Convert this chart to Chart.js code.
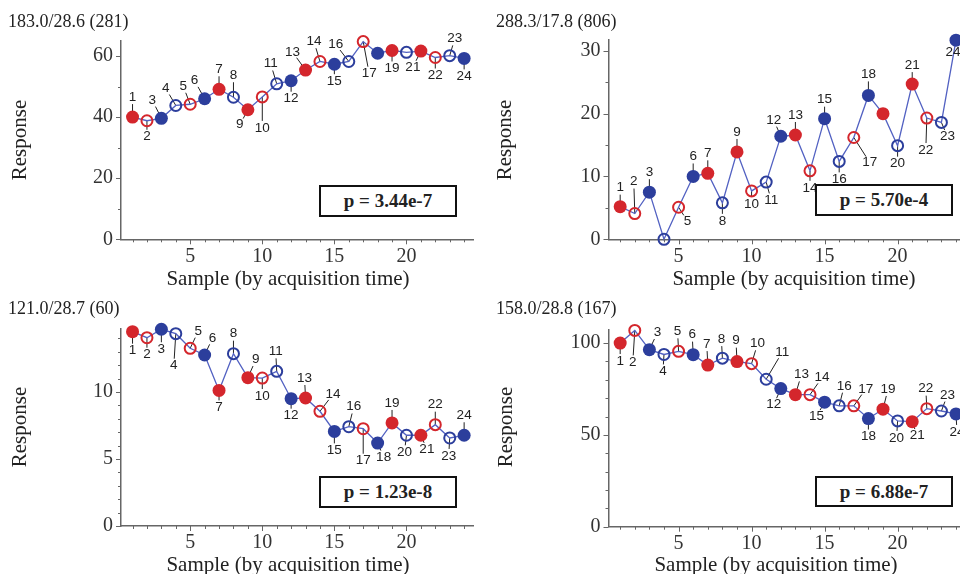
<!DOCTYPE html>
<html>
<head>
<meta charset="utf-8">
<script src="https://cdn.jsdelivr.net/npm/chart.js@4.4.1/dist/chart.umd.min.js"></script>
<style>
  html, body { margin: 0; padding: 0; background: #fff; }
  #page { position: relative; width: 960px; height: 574px; overflow: hidden; font-family: "Liberation Serif", serif; color: #222; }
  canvas { position: absolute; }
  .ttl { position: absolute; font-size: 18px; white-space: nowrap; transform: translateY(-50%); }
  .xt { position: absolute; font-size: 21px; white-space: nowrap; transform: translate(-50%, -50%); }
  .yt { position: absolute; font-size: 21px; white-space: nowrap; transform: translate(-50%, -50%) rotate(-90deg); }
  .pbox { position: absolute; border: 2.5px solid #111; background: #fff; font-weight: bold; font-size: 19px;
          display: flex; align-items: center; justify-content: center; box-sizing: border-box; z-index: 5; }
</style>
</head>
<body>
<div id="page">
  <canvas id="c1" width="480" height="287" style="left:0;top:0"></canvas>
  <canvas id="c2" width="500" height="287" style="left:480px;top:0"></canvas>
  <canvas id="c3" width="480" height="287" style="left:0;top:287px"></canvas>
  <canvas id="c4" width="500" height="287" style="left:480px;top:287px"></canvas>

  <div class="ttl" style="left:8px;top:21px">183.0/28.6 (281)</div>
  <div class="ttl" style="left:496px;top:21px">288.3/17.8 (806)</div>
  <div class="ttl" style="left:8px;top:308px">121.0/28.7 (60)</div>
  <div class="ttl" style="left:496px;top:308px">158.0/28.8 (167)</div>

  <div class="yt" style="left:19px;top:140px">Response</div>
  <div class="yt" style="left:504px;top:140px">Response</div>
  <div class="yt" style="left:19px;top:427px">Response</div>
  <div class="yt" style="left:505px;top:427px">Response</div>

  <div class="xt" style="left:288px;top:278px">Sample (by acquisition time)</div>
  <div class="xt" style="left:794px;top:278px">Sample (by acquisition time)</div>
  <div class="xt" style="left:288px;top:564px">Sample (by acquisition time)</div>
  <div class="xt" style="left:776px;top:564px">Sample (by acquisition time)</div>

  <div class="pbox" style="left:319px;top:185px;width:138px;height:32px">p = 3.44e-7</div>
  <div class="pbox" style="left:815px;top:184px;width:138px;height:32px">p = 5.70e-4</div>
  <div class="pbox" style="left:319px;top:476px;width:138px;height:32px">p = 1.23e-8</div>
  <div class="pbox" style="left:815px;top:476px;width:138px;height:31px">p = 6.88e-7</div>
</div>

<script>
// samples in acquisition order, with their group and marker type
const samples = [1, 2, 3, 4, 5, 6, 7, 8, 9, 10, 11, 12, 13, 14, 15, 16, 17, 18, 19, 20, 21, 22, 23, 24];
const groups  = ['r','r','b','b','r','b','r','b','r','r','b','b','r','r','b','b','r','b','r','b','r','r','b','b'];
const filled  = [1, 0, 1, 0, 0, 1, 1, 0, 1, 0, 0, 1, 1, 0, 1, 0, 0, 1, 1, 0, 1, 0, 0, 1];

const xTicks = [5, 10, 15, 20];

// responses per panel
const responseA = [40.0, 38.8, 39.6, 43.8, 44.2, 46.0, 49.1, 46.5, 42.4, 46.6, 50.9, 51.9,
                   55.4, 58.2, 57.3, 58.2, 64.7, 60.9, 61.8, 61.2, 61.6, 59.5, 60.1, 59.2];
const responseB = [5.2, 4.1, 7.5, 0.0, 5.1, 10.0, 10.5, 5.8, 13.9, 7.7, 9.1, 16.4,
                   16.6, 10.9, 19.2, 12.4, 16.2, 22.9, 20.0, 14.9, 24.7, 19.3, 18.6, 31.7];
const responseC = [14.5, 14.05, 14.68, 14.35, 13.26, 12.76, 10.12, 12.86, 11.07, 11.04, 11.54, 9.5,
                   9.55, 8.56, 7.06, 7.41, 7.26, 6.19, 7.69, 6.77, 6.77, 7.56, 6.57, 6.77];
const responseD = [100.0, 106.9, 96.4, 93.8, 95.5, 93.7, 88.0, 91.8, 89.9, 88.8, 80.3, 75.2,
                   71.9, 71.9, 67.8, 65.8, 65.8, 58.9, 64.0, 57.6, 57.2, 64.3, 63.0, 61.4];

const yTicksA = [0, 20, 40, 60];
const yTicksB = [0, 10, 20, 30];
const yTicksC = [0, 5, 10];
const yTicksD = [0, 50, 100];

// where each sample number sits relative to its marker (null = not labelled)
const labelPosA = [[0,-20],[0,16],[-9,-18],[-10,-17],[-7,-18],[-10,-18],[0,-20],[0,-22],[-8,15],[0,31],[-6,-20],[0,18],
                   [-13,-18],[-6,-20],[0,17],[-13,-17],[6,32],null,[0,18],null,[-8,16],[0,18],[5,-17],[0,18]];
const labelPosB = [[0,-19],[-1,-32],[0,-20],null,[9,14],[0,-20],[0,-20],[0,18],[0,-20],[0,13],[5,18],[-7,-16],
                   [0,-20],[0,17],[0,-19],[0,18],[16,25],[0,-21],null,[0,18],[0,-19],[-1,32],[6,14],[-3,12]];
const labelPosC = [[0,19],[0,17],[0,20],[-2,32],[8,-17],[8,-17],[0,17],[0,-20],[8,-18],[0,18],[-1,-20],[0,17],
                   [-1,-20],[13,-17],[0,19],[5,-20],[0,32],[6,14],[0,-20],[-2,17],[6,14],[0,-20],[-1,18],[0,-20]];
const labelPosD = [[0,18],[-2,32],[8,-17],[-1,17],[-1,-20],[-1,-20],[-1,-21],[-1,-19],[-1,-21],[6,-20],[16,-27],[-7,16],
                   [6,-20],[12,-17],[-8,14],[5,-20],[12,-17],[0,18],[5,-20],[-1,17],[5,14],[-1,-20],[6,-16],[1,18]];

const RED = '#d4262c';
const BLUE = '#2c3e9c';
const LINE = '#5261c2';
const AXIS = '#666';

const panels = [
  { id: 'c1', w: 480, h: 287, area: [121, 40.7, 478, 239.3], yMax: 65,   yMinor: 10, values: responseA, yTicks: yTicksA, labels: labelPosA },
  { id: 'c2', w: 500, h: 287, area: [128.5, 39.5, 485.5, 239.3], yMax: 31.8, yMinor: 5, values: responseB, yTicks: yTicksB, labels: labelPosB },
  { id: 'c3', w: 480, h: 287, area: [121, 42, 478, 239], yMax: 14.7, yMinor: 1,  values: responseC, yTicks: yTicksC, labels: labelPosC },
  { id: 'c4', w: 500, h: 287, area: [128.5, 42.3, 485.5, 239.7], yMax: 107.5, yMinor: 10, values: responseD, yTicks: yTicksD, labels: labelPosD }
];

const YW = 40, XH = 40;

function decorations(p) {
  return {
    id: 'decor_' + p.id,
    beforeDatasetsDraw(chart) {
      // leader lines, hidden under the markers near the point
      const { ctx } = chart;
      const pts = chart.getDatasetMeta(0).data;
      ctx.save();
      ctx.strokeStyle = '#222';
      ctx.lineWidth = 1;
      pts.forEach((pt, i) => {
        const off = p.labels[i];
        if (!off) return;
        const d = Math.hypot(off[0], off[1]);
        const k = (d - 7) / d;
        ctx.beginPath();
        ctx.moveTo(pt.x, pt.y);
        ctx.lineTo(pt.x + off[0] * k, pt.y + off[1] * k);
        ctx.stroke();
      });
      ctx.restore();
    },
    afterDatasetsDraw(chart) {
      const { ctx, chartArea: a } = chart;
      const x = chart.scales.x, y = chart.scales.y;
      ctx.save();
      // tick marks, major and minor
      ctx.strokeStyle = AXIS;
      ctx.lineWidth = 1;
      ctx.beginPath();
      samples.forEach(s => {
        const px = Math.round(x.getPixelForValue(s)) + 0.5;
        const len = s % 5 === 0 ? 5 : 3;
        ctx.moveTo(px, a.bottom);
        ctx.lineTo(px, a.bottom + len);
      });
      for (let v = 0; v <= p.yMax; v += p.yMinor) {
        const py = Math.round(y.getPixelForValue(v)) + 0.5;
        const len = p.yTicks.includes(v) ? 5 : 3;
        ctx.moveTo(a.left, py);
        ctx.lineTo(a.left - len, py);
      }
      ctx.stroke();
      // sample numbers
      const pts = chart.getDatasetMeta(0).data;
      ctx.fillStyle = '#222';
      ctx.font = '13.5px "Liberation Sans", Arial, sans-serif';
      ctx.textAlign = 'center';
      ctx.textBaseline = 'middle';
      pts.forEach((pt, i) => {
        const off = p.labels[i];
        if (!off) return;
        ctx.fillText(String(samples[i]), pt.x + off[0], pt.y + off[1]);
      });
      ctx.restore();
    }
  };
}

function makeChart(p) {
  const [aL, aT, aR, aB] = p.area;
  const colors = groups.map(g => g === 'r' ? RED : BLUE);
  return new Chart(document.getElementById(p.id), {
    type: 'line',
    data: {
      datasets: [{
        data: samples.map((s, i) => ({ x: s, y: p.values[i] })),
        borderColor: LINE,
        borderWidth: 1.3,
        tension: 0,
        clip: false,
        pointRadius: filled.map(f => f ? 6.5 : 5.5),
        pointBorderWidth: filled.map(f => f ? 0 : 2),
        pointBackgroundColor: filled.map((f, i) => f ? colors[i] : 'rgba(0,0,0,0)'),
        pointBorderColor: colors
      }]
    },
    options: {
      responsive: false,
      animation: false,
      layout: { padding: { left: aL - YW, top: aT, right: p.w - aR, bottom: p.h - aB - XH } },
      plugins: { legend: { display: false }, tooltip: { enabled: false } },
      scales: {
        x: {
          type: 'linear', min: 0.2, max: 24.65,
          grid: { display: false, drawTicks: false },
          border: { color: AXIS, width: 1.5 },
          afterBuildTicks: s => { s.ticks = xTicks.map(v => ({ value: v })); },
          ticks: { font: { family: 'Liberation Serif', size: 20 }, color: '#333', padding: 5, maxRotation: 0, autoSkip: false },
          afterFit: s => { s.height = XH; s.paddingLeft = 0; s.paddingRight = 0; }
        },
        y: {
          type: 'linear', min: 0, max: p.yMax,
          grid: { display: false, drawTicks: false },
          border: { color: AXIS, width: 1.5 },
          afterBuildTicks: s => { s.ticks = p.yTicks.map(v => ({ value: v })); },
          ticks: { font: { family: 'Liberation Serif', size: 20 }, color: '#333', padding: 8, autoSkip: false },
          afterFit: s => { s.width = YW; s.paddingTop = 0; s.paddingBottom = 0; }
        }
      }
    },
    plugins: [decorations(p)]
  });
}

panels.forEach(makeChart);
</script>
</body>
</html>
